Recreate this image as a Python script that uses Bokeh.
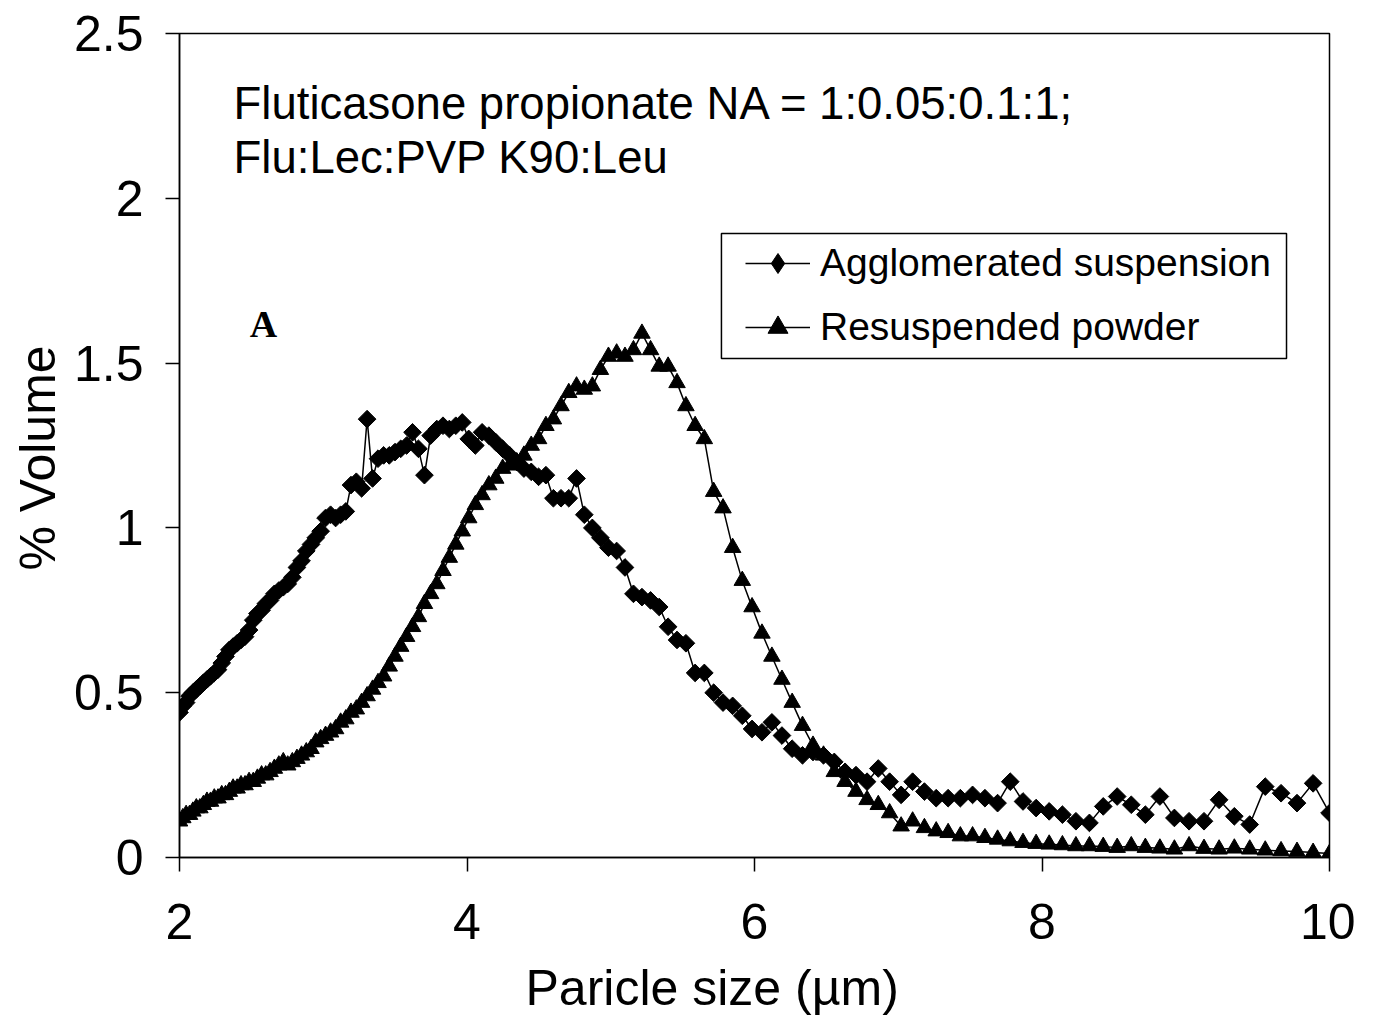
import numpy as np
from bokeh.plotting import figure
from bokeh.models import Range1d, FixedTicker, Legend, LegendItem, Label, BoxAnnotation, Title
from bokeh.embed import file_html
from bokeh.resources import INLINE

# Particle size bins (µm)
particle_size = [
    2.000, 2.023, 2.046, 2.070, 2.093, 2.117, 2.142, 2.166, 2.191, 2.216,
    2.242, 2.268, 2.294, 2.320, 2.347, 2.373, 2.401, 2.428, 2.456, 2.484,
    2.513, 2.542, 2.571, 2.600, 2.630, 2.660, 2.691, 2.722, 2.753, 2.785,
    2.817, 2.849, 2.882, 2.915, 2.948, 2.982, 3.016, 3.051, 3.086, 3.121,
    3.157, 3.193, 3.230, 3.267, 3.305, 3.343, 3.381, 3.420, 3.459, 3.499,
    3.539, 3.580, 3.621, 3.662, 3.704, 3.747, 3.790, 3.833, 3.877, 3.922,
    3.967, 4.012, 4.058, 4.105, 4.152, 4.200, 4.248, 4.297, 4.346, 4.396,
    4.447, 4.498, 4.549, 4.601, 4.654, 4.708, 4.762, 4.816, 4.872, 4.928,
    4.984, 5.041, 5.099, 5.158, 5.217, 5.277, 5.337, 5.399, 5.461, 5.523,
    5.587, 5.651, 5.716, 5.781, 5.848, 5.915, 5.983, 6.052, 6.121, 6.191,
    6.262, 6.334, 6.407, 6.480, 6.555, 6.630, 6.706, 6.783, 6.861, 6.940,
    7.020, 7.100, 7.182, 7.264, 7.347, 7.432, 7.517, 7.603, 7.691, 7.779,
    7.868, 7.959, 8.050, 8.142, 8.236, 8.330, 8.426, 8.523, 8.621, 8.719,
    8.820, 8.921, 9.023, 9.127, 9.232, 9.338, 9.445, 9.553, 9.663, 9.774,
    9.886, 10.000,
]

# % Volume, agglomerated suspension (diamonds)
agglomerated = [
    0.44, 0.46, 0.47, 0.49, 0.50, 0.51, 0.52, 0.53, 0.54, 0.55,
    0.56, 0.57, 0.59, 0.61, 0.63, 0.64, 0.65, 0.66, 0.67, 0.69,
    0.72, 0.74, 0.75, 0.77, 0.78, 0.80, 0.81, 0.82, 0.83, 0.85,
    0.88, 0.90, 0.93, 0.95, 0.97, 0.99, 1.03, 1.04, 1.03, 1.04,
    1.05, 1.13, 1.14, 1.12, 1.33, 1.15, 1.21, 1.22, 1.22, 1.23,
    1.24, 1.25, 1.29, 1.24, 1.16, 1.28, 1.30, 1.31, 1.30, 1.31,
    1.32, 1.27, 1.25, 1.29, 1.28, 1.26, 1.24, 1.22, 1.20, 1.18,
    1.17, 1.155, 1.16, 1.09, 1.09, 1.09, 1.15, 1.04, 1.00, 0.97,
    0.94, 0.93, 0.88, 0.80, 0.79, 0.78, 0.76, 0.70, 0.66, 0.65,
    0.56, 0.56, 0.50, 0.47, 0.46, 0.43, 0.39, 0.38, 0.41, 0.37,
    0.33, 0.31, 0.32, 0.31, 0.29, 0.26, 0.25, 0.23, 0.27, 0.23,
    0.19, 0.23, 0.20, 0.18, 0.18, 0.18, 0.19, 0.18, 0.165, 0.23,
    0.17, 0.15, 0.14, 0.13, 0.11, 0.105, 0.155, 0.185, 0.16, 0.13,
    0.185, 0.12, 0.11, 0.11, 0.175, 0.125, 0.10, 0.215, 0.195, 0.165,
    0.225, 0.135,
]

# % Volume, resuspended powder (triangles)
resuspended = [
    0.11, 0.12, 0.13, 0.13, 0.14, 0.15, 0.15, 0.16, 0.17, 0.17,
    0.18, 0.18, 0.19, 0.19, 0.20, 0.21, 0.21, 0.22, 0.22, 0.23,
    0.23, 0.24, 0.25, 0.25, 0.26, 0.27, 0.28, 0.29, 0.28, 0.29,
    0.30, 0.31, 0.32, 0.33, 0.35, 0.36, 0.37, 0.38, 0.39, 0.41,
    0.42, 0.44, 0.45, 0.47, 0.49, 0.51, 0.53, 0.55, 0.58, 0.61,
    0.64, 0.67, 0.70, 0.73, 0.77, 0.80, 0.83, 0.87, 0.91, 0.95,
    0.99, 1.03, 1.07, 1.10, 1.13, 1.15, 1.18, 1.19, 1.20, 1.22,
    1.25, 1.27, 1.31, 1.33, 1.37, 1.41, 1.43, 1.42, 1.43, 1.48,
    1.52, 1.53, 1.52, 1.54, 1.59, 1.54, 1.49, 1.49, 1.44, 1.37,
    1.31, 1.27, 1.11, 1.06, 0.94, 0.84, 0.76, 0.68, 0.61, 0.54,
    0.47, 0.40, 0.34, 0.31, 0.26, 0.23, 0.20, 0.175, 0.16, 0.135,
    0.095, 0.11, 0.09, 0.08, 0.075, 0.065, 0.065, 0.06, 0.055, 0.05,
    0.045, 0.042, 0.04, 0.038, 0.035, 0.035, 0.033, 0.03, 0.035, 0.03,
    0.028, 0.025, 0.035, 0.027, 0.025, 0.028, 0.025, 0.022, 0.02, 0.018,
    0.015, 0.012,
]

series_names = ["Agglomerated suspension", "Resuspended powder"]
x_ticks = [2, 4, 6, 8, 10]
x_tick_labels = ["2", "4", "6", "8", "10"]
y_ticks = [0, 0.5, 1, 1.5, 2, 2.5]
y_tick_labels = ["0", "0.5", "1", "1.5", "2", "2.5"]
x_title = "Paricle size (µm)"
y_title = "% Volume"
note_lines = ["Fluticasone propionate NA = 1:0.05:0.1:1;", "Flu:Lec:PVP K90:Leu"]
panel_letter = "A"

FONT = "Liberation Sans"

p = figure(
    frame_width=1150, frame_height=824,
    min_border_left=179, min_border_top=33, min_border_right=26, min_border_bottom=176,
    x_range=Range1d(2, 10), y_range=Range1d(0, 2.5),
    output_backend="svg", toolbar_location=None,
)
p.background_fill_color = "white"
p.border_fill_color = "white"
p.outline_line_color = "black"
p.outline_line_width = 1.5
p.xgrid.visible = False
p.ygrid.visible = False

for ax, ticks, labels in ((p.xaxis[0], x_ticks, x_tick_labels), (p.yaxis[0], y_ticks, y_tick_labels)):
    ax.ticker = FixedTicker(ticks=ticks, minor_ticks=[])
    ax.major_label_overrides = {t: l for t, l in zip(ticks, labels)}
    ax.major_tick_out = 14
    ax.major_tick_in = 0
    ax.minor_tick_line_color = None
    ax.axis_line_color = "black"
    ax.axis_line_width = 1.5
    ax.major_tick_line_color = "black"
    ax.major_tick_line_width = 1.5
    ax.major_label_text_font = FONT
    ax.major_label_text_font_size = "50px"
    ax.major_label_text_color = "black"

p.xaxis.major_label_standoff = 32
p.yaxis.major_label_standoff = 22

# axis titles as side titles (the original titles sit slightly off-centre)
p.add_layout(Title(text=x_title, align="left", offset=346, standoff=33,
                   text_font=FONT, text_font_size="50px", text_font_style="normal",
                   text_color="black"), "below")
p.add_layout(Title(text=y_title, align="left", offset=287, standoff=10,
                   text_font=FONT, text_font_size="50px", text_font_style="normal",
                   text_color="black"), "left")

# legend frame (decoration), drawn in data coordinates below the legend entries
p.add_layout(BoxAnnotation(left=5.770, right=9.701, bottom=1.514, top=1.893,
                           fill_color="white", fill_alpha=1.0,
                           line_color="black", line_alpha=1.0, line_width=1.5, level="annotation"))

l1 = p.line(particle_size, agglomerated, line_color="black", line_width=1.5)
# diamond-shaped key marker (hidden under the rotated squares; used for the legend swatch)
s1_key = p.scatter(particle_size, agglomerated, marker="diamond", size=10,
                   fill_color="black", line_color="black")
s1 = p.scatter(particle_size, agglomerated, marker="square", angle=np.pi / 4, size=12.5,
               fill_color="black", line_color="black")
l2 = p.line(particle_size, resuspended, line_color="black", line_width=1.5)
s2 = p.scatter(particle_size, resuspended, marker="triangle", size=16.5,
               fill_color="black", line_color="black")

legend = Legend(
    items=[LegendItem(label=series_names[0], renderers=[l1, s1_key]),
           LegendItem(label=series_names[1], renderers=[l2, s2])],
    location=(566, 505),
    label_text_font=FONT, label_text_font_size="39px", label_text_color="black",
    glyph_width=65, glyph_height=50, label_height=50, label_standoff=10,
    spacing=14, padding=0, margin=0,
    border_line_color=None, background_fill_alpha=0.0,
)
p.add_layout(legend)

p.add_layout(Label(x=2.376, y=2.288, text=note_lines[0], text_font=FONT, text_font_size="45.5px",
                   text_color="black", text_baseline="middle", text_align="left"))
p.add_layout(Label(x=2.376, y=2.124, text=note_lines[1], text_font=FONT, text_font_size="45.5px",
                   text_color="black", text_baseline="middle", text_align="left"))
p.add_layout(Label(x=2.584, y=1.62, text=panel_letter, text_font="Liberation Serif", text_font_size="38px",
                   text_font_style="bold", text_color="black", text_baseline="middle", text_align="center"))

open("out.html", "w").write(file_html(p, INLINE))
